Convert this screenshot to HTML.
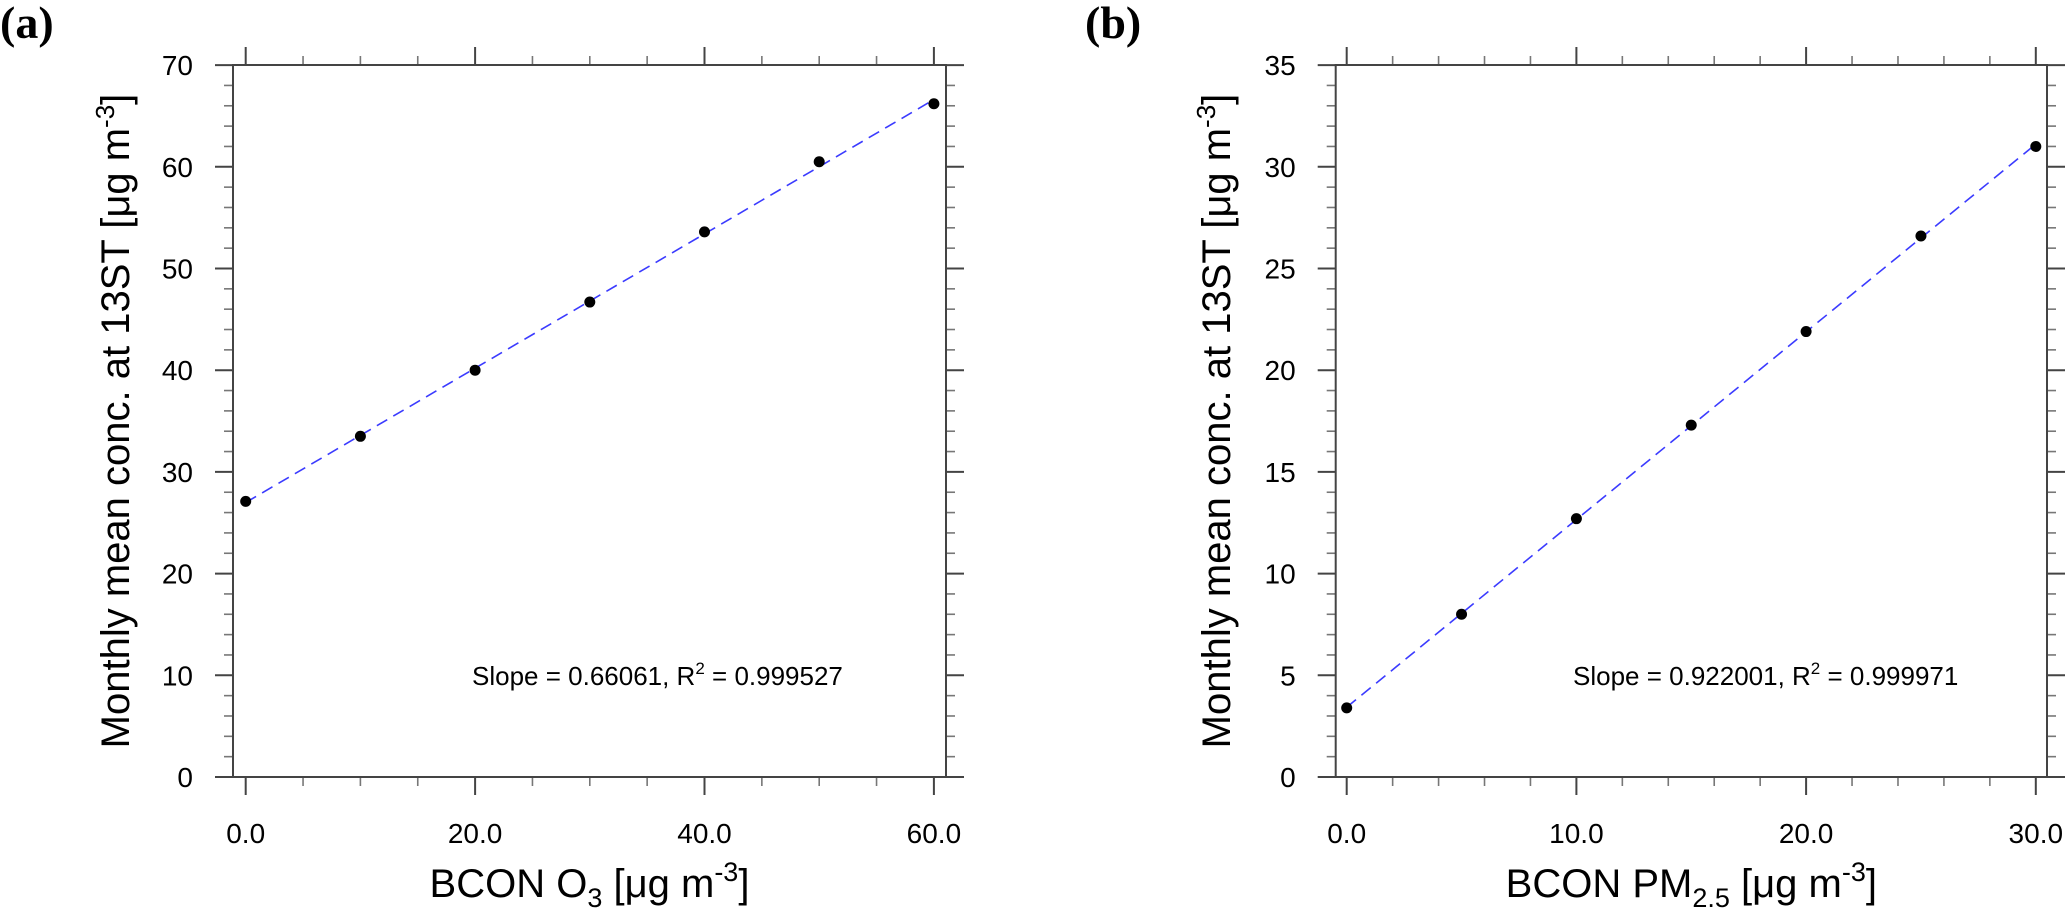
<!DOCTYPE html>
<html><head><meta charset="utf-8"><style>
html,body{margin:0;padding:0;background:#fff;}
svg{display:block;font-family:"Liberation Sans",Arial,sans-serif;}
</style></head><body>
<svg id="c" width="2067" height="911" viewBox="0 0 2067 911" xmlns="http://www.w3.org/2000/svg"></svg>
<script>
// Panel (a) data
const aX = [0, 10, 20, 30, 40, 50, 60];
const aY = [27.1, 33.5, 40.0, 46.7, 53.6, 60.5, 66.2];
const aXTicks = [0, 20, 40, 60];
const aXTickLabels = ["0.0", "20.0", "40.0", "60.0"];
const aYTicks = [0, 10, 20, 30, 40, 50, 60, 70];
const aYTickLabels = ["0", "10", "20", "30", "40", "50", "60", "70"];
const aAnnot = ["0.66061", "0.999527"];
// Panel (b) data
const bX = [0, 5, 10, 15, 20, 25, 30];
const bY = [3.4, 8.0, 12.7, 17.3, 21.9, 26.6, 31.0];
const bXTicks = [0, 10, 20, 30];
const bXTickLabels = ["0.0", "10.0", "20.0", "30.0"];
const bYTicks = [0, 5, 10, 15, 20, 25, 30, 35];
const bYTickLabels = ["0", "5", "10", "15", "20", "25", "30", "35"];
const bAnnot = ["0.922001", "0.999971"];

const NS = "http://www.w3.org/2000/svg";
const svg = document.getElementById("c");
function mk(tag, attrs, parent) {
  const e = document.createElementNS(NS, tag);
  for (const k in attrs) e.setAttribute(k, attrs[k]);
  (parent || svg).appendChild(e);
  return e;
}

function panel(cfg) {
  const g = mk("g", {});
  
  
  const L = cfg.left, R = cfg.right, T = 65, B = 777;
  const sx = v => cfg.x0px + (v - 0) * cfg.xs;
  const sy = v => B - (v - 0) * cfg.ys;
  const tg = mk("g", {stroke: "#777", "stroke-width": 1.6}, g);
  
  
  for (let v = cfg.xMinorStep; v <= cfg.xMax + 1e-9; v += cfg.xMinorStep) {
    if (cfg.xTicks.some(t => Math.abs(t - v) < 1e-9)) continue;
    const x = sx(v);
    mk("line", {x1: x, x2: x, y1: B, y2: B + 9}, tg);
    mk("line", {x1: x, x2: x, y1: T, y2: T - 9}, tg);
  }
  for (let v = cfg.yMinorStep; v <= cfg.yMax + 1e-9; v += cfg.yMinorStep) {
    if (cfg.yTicks.some(t => Math.abs(t - v) < 1e-9)) continue;
    const y = sy(v);
    mk("line", {x1: L, x2: L - 9, y1: y, y2: y}, tg);
    mk("line", {x1: R, x2: R + 9, y1: y, y2: y}, tg);
  }
  const mg = mk("g", {stroke: "#444", "stroke-width": 2}, g);
  
  
  cfg.xTicks.forEach((v, i) => {
    const x = sx(v);
    mk("line", {x1: x, x2: x, y1: B, y2: B + 18}, mg);
    mk("line", {x1: x, x2: x, y1: T, y2: T - 18}, mg);
    const t = mk("text", {x: x, y: 843, "font-size": 28, "text-anchor": "middle", fill: "#000"}, g);
    
    
    t.textContent = cfg.xTickLabels[i];
  });
  cfg.yTicks.forEach((v, i) => {
    const y = sy(v);
    mk("line", {x1: L, x2: L - 18, y1: y, y2: y}, mg);
    mk("line", {x1: R, x2: R + 18, y1: y, y2: y}, mg);
    const t = mk("text", {x: L - 40, y: y + 10, "font-size": 28, "text-anchor": "end", fill: "#000"}, g);
    
    
    t.textContent = cfg.yTickLabels[i];
  });
  const fr = mk("rect", {x: L, y: T, width: R - L, height: B - T, fill: "none", stroke: "#444", "stroke-width": 2}, g);
  
  
  const xs = cfg.xs_d, ys = cfg.ys_d, n = xs.length;
  const mx = xs.reduce((a, b) => a + b, 0) / n, my = ys.reduce((a, b) => a + b, 0) / n;
  let num = 0, den = 0;
  for (let i = 0; i < n; i++) { num += (xs[i] - mx) * (ys[i] - my); den += (xs[i] - mx) ** 2; }
  const m = num / den, c = my - m * mx;
  const x0 = xs[0], x1 = xs[n - 1];
  const ln = mk("line", {x1: sx(x0), y1: sy(m * x0 + c), x2: sx(x1), y2: sy(m * x1 + c), stroke: "#3b3bff", "stroke-width": 1.6, "stroke-dasharray": "12 7"}, g);
  
  
  for (let i = 0; i < n; i++) {
    const p = mk("circle", {cx: sx(xs[i]), cy: sy(ys[i]), r: 5.5, fill: "#000"}, g);
    
    
  }
  const an = mk("text", {x: cfg.annX, y: 685, "font-size": 26, fill: "#000"}, g);
  
  
  an.innerHTML = 'Slope = ' + cfg.annot[0] + ', R<tspan dy="-11" font-size="17">2</tspan><tspan dy="11"> = ' + cfg.annot[1] + '</tspan>';
  const xt = mk("text", {x: (L + R) / 2, y: 897, "font-size": 40, "text-anchor": "middle", fill: "#000"}, g);
  
  
  xt.innerHTML = cfg.xTitle;
  const yt = mk("text", {x: 0, y: 0, "font-size": 40, "text-anchor": "middle", fill: "#000", transform: "translate(" + cfg.yTitleX + ",421) rotate(-90)"}, g);
  
  
  yt.innerHTML = 'Monthly mean conc. at 13ST [μg m<tspan dy="-15" font-size="26">-3</tspan><tspan dy="15">]</tspan>';
  const pl = mk("text", {x: cfg.labelX, y: 38, "font-size": 46, "font-weight": "bold", "font-family": "'Liberation Serif',serif", fill: "#000"}, g);
  
  
  pl.textContent = cfg.label;
}

panel({name: "panel-a", left: 233, right: 946, x0px: 245.7, xs: 11.47, ys: 10.17,
  xMax: 61, yMax: 70, xMinorStep: 5, yMinorStep: 2,
  xTicks: aXTicks, xTickLabels: aXTickLabels, yTicks: aYTicks, yTickLabels: aYTickLabels,
  xs_d: aX, ys_d: aY, annot: aAnnot, annX: 472,
  xTitle: 'BCON O<tspan dy="10" font-size="27">3</tspan><tspan dy="-10"> [μg m</tspan><tspan dy="-16" font-size="27">-3</tspan><tspan dy="16">]</tspan>',
  yTitleX: 129, labelX: 0, label: "(a)"});
panel({name: "panel-b", left: 1335.7, right: 2047, x0px: 1346.7, xs: 22.97, ys: 20.34,
  xMax: 30.4, yMax: 35, xMinorStep: 2, yMinorStep: 1,
  xTicks: bXTicks, xTickLabels: bXTickLabels, yTicks: bYTicks, yTickLabels: bYTickLabels,
  xs_d: bX, ys_d: bY, annot: bAnnot, annX: 1573,
  xTitle: 'BCON PM<tspan dy="10" font-size="27">2.5</tspan><tspan dy="-10"> [μg m</tspan><tspan dy="-16" font-size="27">-3</tspan><tspan dy="16">]</tspan>',
  yTitleX: 1230, labelX: 1085, label: "(b)"});
</script>
</body></html>
